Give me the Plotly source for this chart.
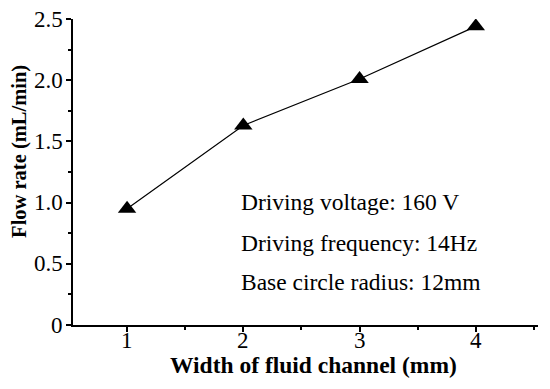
import plotly.graph_objects as go

widths = [1, 2, 3, 4]
flow_rates = [0.95, 1.63, 2.01, 2.44]
x_ticks = [1, 2, 3, 4]
x_tick_labels = ["1", "2", "3", "4"]
y_ticks = [0, 0.5, 1.0, 1.5, 2.0, 2.5]
y_tick_labels = ["0", "0.5", "1.0", "1.5", "2.0", "2.5"]
notes = ["Driving voltage: 160 V", "Driving frequency: 14Hz", "Base circle radius: 12mm"]
note_y = [1.005, 0.67, 0.35]

FONT = "Liberation Serif, Times New Roman, serif"
TICK_FONT = dict(family=FONT, size=23, color="black")

fig = go.Figure()
fig.add_trace(go.Scatter(
    x=widths, y=flow_rates, mode="lines+markers",
    line=dict(color="black", width=1.2),
    marker=dict(symbol="triangle-up", size=16, color="black"),
    showlegend=False,
))

for t, yy in zip(notes, note_y):
    fig.add_annotation(x=1.96, y=yy, xref="x", yref="y", text=t, showarrow=False,
                       xanchor="left", yanchor="middle",
                       font=dict(family=FONT, size=23.5, color="black"))

# tick labels placed as annotations (tighter to the axes, like the reference)
for v, lab in zip(x_ticks, x_tick_labels):
    fig.add_annotation(x=v, y=-0.052, xref="x", yref="paper", text=lab, showarrow=False,
                       xanchor="center", yanchor="middle", font=TICK_FONT)
for v, lab in zip(y_ticks, y_tick_labels):
    fig.add_annotation(x=-0.017, y=v, xref="paper", yref="y", text=lab, showarrow=False,
                       xanchor="right", yanchor="middle", font=TICK_FONT)

# axis titles
fig.add_annotation(x=0.517, y=-0.131, xref="paper", yref="paper",
                   text="<b>Width of fluid channel (mm)</b>", showarrow=False,
                   xanchor="center", yanchor="middle",
                   font=dict(family=FONT, size=23.5, color="black"))
fig.add_annotation(x=-0.114, y=0.569, xref="paper", yref="paper",
                   text="<b>Flow rate (mL/min)</b>", showarrow=False, textangle=-90,
                   xanchor="center", yanchor="middle",
                   font=dict(family=FONT, size=20.5, color="black"))

axis_common = dict(
    showline=True, linecolor="black", linewidth=2, mirror=False,
    ticks="outside", ticklen=5, tickwidth=1.5, tickcolor="black",
    showgrid=False, zeroline=False, automargin=False,
    showticklabels=False,
)

fig.update_xaxes(range=[0.535, 4.535], tickvals=x_ticks,
                 minor=dict(tickvals=[1.5, 2.5, 3.5, 4.5], ticks="outside", ticklen=3, tickwidth=1.5, tickcolor="black"),
                 **axis_common)
fig.update_yaxes(range=[0, 2.5], tickvals=y_ticks,
                 minor=dict(tickvals=[0.25, 0.75, 1.25, 1.75, 2.25], ticks="outside", ticklen=3, tickwidth=1.5, tickcolor="black"),
                 **axis_common)

# page body has an 8px margin: shrink the figure so the plot lands where the reference has it
fig.update_layout(
    width=542, height=381,
    margin=dict(l=65, r=12, t=11, b=64, autoexpand=False),
    plot_bgcolor="white", paper_bgcolor="white",
)

fig.write_html("out.html")
